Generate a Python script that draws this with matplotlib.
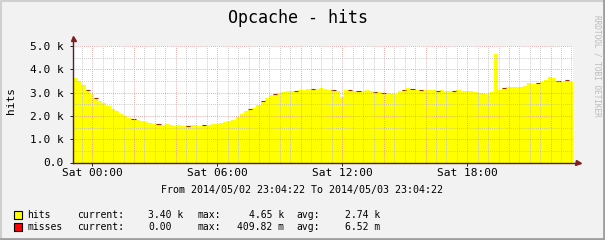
import numpy as np
import matplotlib.pyplot as plt
from matplotlib.patches import Rectangle
from matplotlib.lines import Line2D

W, H = 605, 240

# time in hours relative to Sat 00:00 (start 2014/05/02 23:04:22)
t_start = -(55 + 38 / 60) / 60
step = 0.2

hits = [3630, 3500, 3330, 3100, 2950, 2780, 2650, 2550, 2440, 2300,
        2200, 2080, 2000, 1930, 1870, 1820, 1770, 1730, 1700, 1660,
        1640, 1620, 1640, 1610, 1580, 1600, 1580, 1570, 1610, 1600,
        1580, 1600, 1620, 1640, 1670, 1700, 1750, 1790, 1840, 1950,
        2080, 2200, 2280, 2360, 2470, 2620, 2760, 2900, 2960, 3000,
        3020, 3050, 3070, 3080, 3100, 3120, 3140, 3170, 3160, 3180,
        3150, 3120, 3100, 3080, 2800, 3100, 3120, 3080, 3050, 3080,
        3100, 3060, 3020, 3040, 3000, 2970, 2950, 2930, 3050, 3120,
        3180, 3150, 3130, 3120, 3100, 3130, 3100, 3080, 3100, 3050,
        3080, 3070, 3100, 3050, 3060, 3080, 3030, 2980, 2970, 2960,
        3020, 4650, 3100, 3200, 3220, 3240, 3220, 3250, 3300, 3400,
        3380, 3420, 3450, 3550, 3670, 3620, 3500, 3480, 3520, 3450,
        3400]

# misses per second (tiny, only visible as a thin stacked edge)
misses = [0, 0, 0, 0.21, 0, 0.18, 0, 0, 0, 0,
          0, 0, 0, 0, 0.25, 0, 0, 0, 0, 0,
          0.12, 0, 0, 0, 0, 0, 0, 0.2, 0, 0,
          0, 0.15, 0, 0, 0, 0, 0, 0, 0, 0,
          0, 0, 0.3, 0, 0, 0.22, 0, 0, 0.41, 0,
          0, 0, 0, 0.19, 0, 0, 0, 0.14, 0, 0,
          0, 0, 0.2, 0, 0, 0, 0.16, 0, 0.24, 0,
          0, 0, 0.18, 0, 0.12, 0, 0, 0, 0, 0.2,
          0, 0.26, 0, 0.15, 0, 0, 0, 0.17, 0, 0,
          0, 0.13, 0, 0, 0, 0, 0, 0, 0, 0,
          0, 0, 0, 0.22, 0, 0, 0, 0, 0, 0,
          0, 0.19, 0, 0, 0, 0, 0.25, 0, 0.2, 0,
          0]

hits = np.array(hits, dtype=float)
misses = np.array(misses, dtype=float)
t = t_start + step * np.arange(len(hits))

xticks = [0, 6, 12, 18]
xlabels = ["Sat 00:00", "Sat 06:00", "Sat 12:00", "Sat 18:00"]
yticks = [0, 1000, 2000, 3000, 4000, 5000]
ylabels = ["0.0", "1.0 k", "2.0 k", "3.0 k", "4.0 k", "5.0 k"]

legend_rows = [
    ("hits", "#FFFF00", "3.40 k", "4.65 k", "2.74 k"),
    ("misses", "#FF0000", "0.00", "409.82 m", "6.52 m"),
]

mono = "DejaVu Sans Mono"
plt.rcParams["font.family"] = mono

fig = plt.figure(figsize=(W / 100, H / 100), dpi=100)
fig.patch.set_facecolor("#F2F2F2")

# plot area in pixels
px0, px1, py0, py1 = 73, 573, 162.5, 46
ax = fig.add_axes([px0 / W, 1 - py0 / H, (px1 - px0) / W, (py0 - py1) / H])
ax.set_facecolor("white")
for s in ax.spines.values():
    s.set_visible(False)

ax.set_xlim(t_start, t_start + 24)
ax.set_ylim(0, 5000)

ax.fill_between(t, hits, step="post", color="#FFFF00", lw=0, zorder=1)
m = misses > 0
ax.hlines(hits[m], t[m], t[m] + step, color="#9A2A10", lw=0.8, zorder=2)

# grid, like rrdtool: minor grey dotted, major red dotted
dots = (0, (1, 1.5))
minor_col, major_col = "#B8B8B8", "#E29090"
for h in np.arange(np.ceil(t_start * 2) / 2, t_start + 24, 0.5):
    major = abs(h / 2 - round(h / 2)) < 1e-6
    ax.axvline(h, color=major_col if major else minor_col,
               lw=0.6, ls=dots, zorder=3)
for v in np.arange(500, 5001, 500):
    major = v % 1000 == 0
    ax.axhline(v, color=major_col if major else minor_col,
               lw=0.6, ls=dots, zorder=3)

ax.set_xticks(xticks)
ax.set_xticklabels(xlabels, fontsize=8)
ax.set_yticks(yticks)
ax.set_yticklabels(ylabels, fontsize=8)
ax.tick_params(axis="x", length=2, width=0.7, color="#1F1F1F", pad=2.2)
ax.tick_params(axis="y", length=2, width=0.7, color="#1F1F1F", pad=4.5)

# axes with arrows
axis_col = "#5A1E1E"
arrow_col = "#801F1F"
ax.plot([0, 1.006], [0, 0], transform=ax.transAxes, color=axis_col,
        lw=1, clip_on=False, zorder=4)
ax.plot([0, 0], [0, 1.05], transform=ax.transAxes, color=axis_col,
        lw=1, clip_on=False, zorder=4)
ax.plot([1.009], [0], transform=ax.transAxes, marker=">", ms=3.6,
        color=arrow_col, mec=arrow_col, clip_on=False, zorder=5)
ax.plot([0], [1.065], transform=ax.transAxes, marker="^", ms=3.6,
        color=arrow_col, mec=arrow_col, clip_on=False, zorder=5)


def ftext(x, y, s, **kw):
    fig.text(x / W, 1 - y / H, s, **kw)


ftext(297.5, 18, "Opcache - hits", fontsize=12, ha="center", va="center")
ftext(11, 100, "hits", fontsize=8, rotation=90, ha="center", va="center")
ftext(302, 190, "From 2014/05/02 23:04:22 To 2014/05/03 23:04:22",
      fontsize=7.2, ha="center", va="center")
ftext(597, 66, "RRDTOOL / TOBI OETIKER", fontsize=5.6, rotation=270,
      ha="center", va="center", color="#BBBBBB")

rows_y = [215, 227]
for (name, col, cur, mx, avg), y in zip(legend_rows, rows_y):
    fig.patches.append(Rectangle((14 / W, 1 - (y + 4) / H), 8 / W, 8 / H,
                                 transform=fig.transFigure, facecolor=col,
                                 edgecolor="black", lw=0.8))
    ftext(27, y, name, fontsize=7, va="center")
    ftext(77, y, "current:", fontsize=7, va="center")
    ftext(148, y, cur, fontsize=7, va="center")
    ftext(198, y, "max:", fontsize=7, va="center")
    ftext(284, y, mx, fontsize=7, va="center", ha="right")
    ftext(296, y, "avg:", fontsize=7, va="center")
    ftext(345, y, avg, fontsize=7, va="center")

# 3d-ish frame around the image
fig.add_artist(Line2D([0.5 / W, 0.5 / W, 1 - 0.5 / W], [0, 1 - 0.5 / H, 1 - 0.5 / H],
                      transform=fig.transFigure, color="#CFCFCF", lw=1.5))
fig.add_artist(Line2D([1 / W, 1 - 1 / W, 1 - 1 / W], [1 / H, 1 / H, 1],
                      transform=fig.transFigure, color="#9E9E9E", lw=2))

fig.savefig("out.png", dpi=100, facecolor=fig.get_facecolor())
